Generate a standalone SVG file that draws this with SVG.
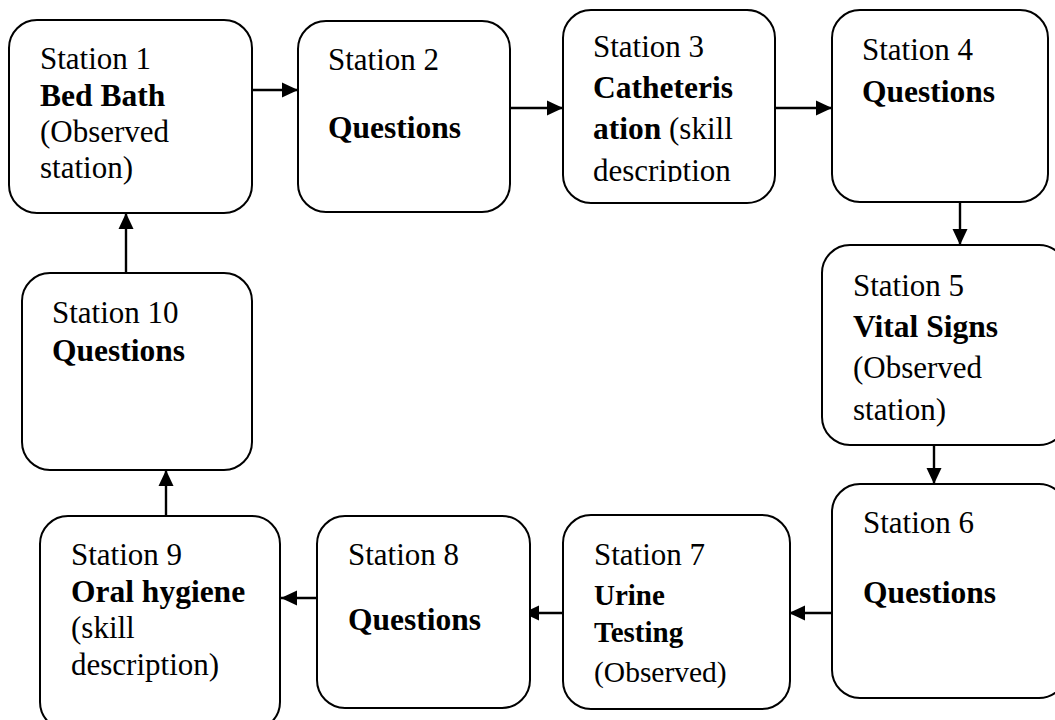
<svg xmlns="http://www.w3.org/2000/svg" width="1055" height="720" viewBox="0 0 1055 720">
  <style>
    .box { fill: #ffffff; stroke: #000000; stroke-width: 2; }
    .txt { font-family: "Liberation Serif", "Times New Roman", serif; font-size: 31px; fill: #000000; }
    .b { font-weight: bold; font-size: 31.5px; }
    .link { stroke: #000000; stroke-width: 2.4; fill: none; marker-end: url(#head); }
  </style>
  <defs>
    <marker id="head" markerUnits="userSpaceOnUse" markerWidth="17" markerHeight="17" viewBox="0 0 17 17" refX="16" refY="8.5" orient="auto">
      <path d="M0,1 L16,8.5 L0,16 Z" fill="#000000"/>
    </marker>
    <clipPath id="clip3">
      <rect x="563" y="10" width="212" height="172"/>
    </clipPath>
  </defs>

  <rect width="1055" height="720" fill="#ffffff"/>

  <!-- connectors -->
  <g id="connectors">
    <line class="link" x1="252" y1="90" x2="298" y2="90"/>
    <line class="link" x1="510" y1="108" x2="563" y2="108"/>
    <line class="link" x1="775" y1="108" x2="832" y2="108"/>
    <line class="link" x1="960" y1="202" x2="960" y2="245"/>
    <line class="link" x1="934" y1="445" x2="934" y2="484"/>
    <line class="link" x1="832" y1="613" x2="789" y2="613"/>
    <line class="link" x1="563" y1="613" x2="523" y2="613"/>
    <line class="link" x1="317" y1="598" x2="281" y2="598"/>
    <line class="link" x1="166" y1="516" x2="166" y2="470"/>
    <line class="link" x1="126" y1="273" x2="126" y2="213"/>
  </g>

  <g id="station1">
    <rect class="box" x="9" y="20" width="243" height="193" rx="28" ry="28"/>
    <text class="txt" x="40" y="69">Station 1</text>
    <text class="txt b" x="40" y="106">Bed Bath</text>
    <text class="txt" x="40" y="142">(Observed</text>
    <text class="txt" x="40" y="178">station)</text>
  </g>

  <g id="station2">
    <rect class="box" x="298" y="21" width="212" height="191" rx="28" ry="28"/>
    <text class="txt" x="328" y="70">Station 2</text>
    <text class="txt b" x="328" y="138">Questions</text>
  </g>

  <g id="station3">
    <rect class="box" x="563" y="10" width="212" height="193" rx="28" ry="28"/>
    <g clip-path="url(#clip3)">
      <text class="txt" x="593" y="57" font-size="29.5">Station 3</text>
      <text class="txt b" x="593" y="98">Catheteris</text>
      <text class="txt" x="593" y="139"><tspan class="b">ation</tspan> (skill</text>
      <text class="txt" x="593" y="181">description</text>
    </g>
  </g>

  <g id="station4">
    <rect class="box" x="832" y="10" width="216" height="192" rx="28" ry="28"/>
    <text class="txt" x="862" y="60">Station 4</text>
    <text class="txt b" x="862" y="102">Questions</text>
  </g>

  <g id="station5">
    <rect class="box" x="822" y="245" width="245" height="200" rx="28" ry="28"/>
    <text class="txt" x="853" y="296">Station 5</text>
    <text class="txt b" x="853" y="337">Vital Signs</text>
    <text class="txt" x="853" y="378">(Observed</text>
    <text class="txt" x="853" y="420">station)</text>
  </g>

  <g id="station6">
    <rect class="box" x="832" y="484" width="235" height="214" rx="28" ry="28"/>
    <text class="txt" x="863" y="533">Station 6</text>
    <text class="txt b" x="863" y="603">Questions</text>
  </g>

  <g id="station7">
    <rect class="box" x="563" y="515" width="227" height="194" rx="28" ry="28"/>
    <text class="txt" x="594" y="565">Station 7</text>
    <text class="txt b" x="594" y="605" style="font-size:29px">Urine</text>
    <text class="txt b" x="594" y="642" style="font-size:29px">Testing</text>
    <text class="txt" x="594" y="682" style="font-size:29.5px">(Observed)</text>
  </g>

  <g id="station8">
    <rect class="box" x="317" y="516" width="213" height="192" rx="28" ry="28"/>
    <text class="txt" x="348" y="565">Station 8</text>
    <text class="txt b" x="348" y="630">Questions</text>
  </g>

  <g id="station9">
    <rect class="box" x="40" y="516" width="240" height="214" rx="28" ry="28"/>
    <text class="txt" x="71" y="565">Station 9</text>
    <text class="txt b" x="71" y="602">Oral hygiene</text>
    <text class="txt" x="71" y="638">(skill</text>
    <text class="txt" x="71" y="675">description)</text>
  </g>

  <g id="station10">
    <rect class="box" x="22" y="273" width="230" height="197" rx="28" ry="28"/>
    <text class="txt" x="52" y="323">Station 10</text>
    <text class="txt b" x="52" y="361">Questions</text>
  </g>
</svg>
